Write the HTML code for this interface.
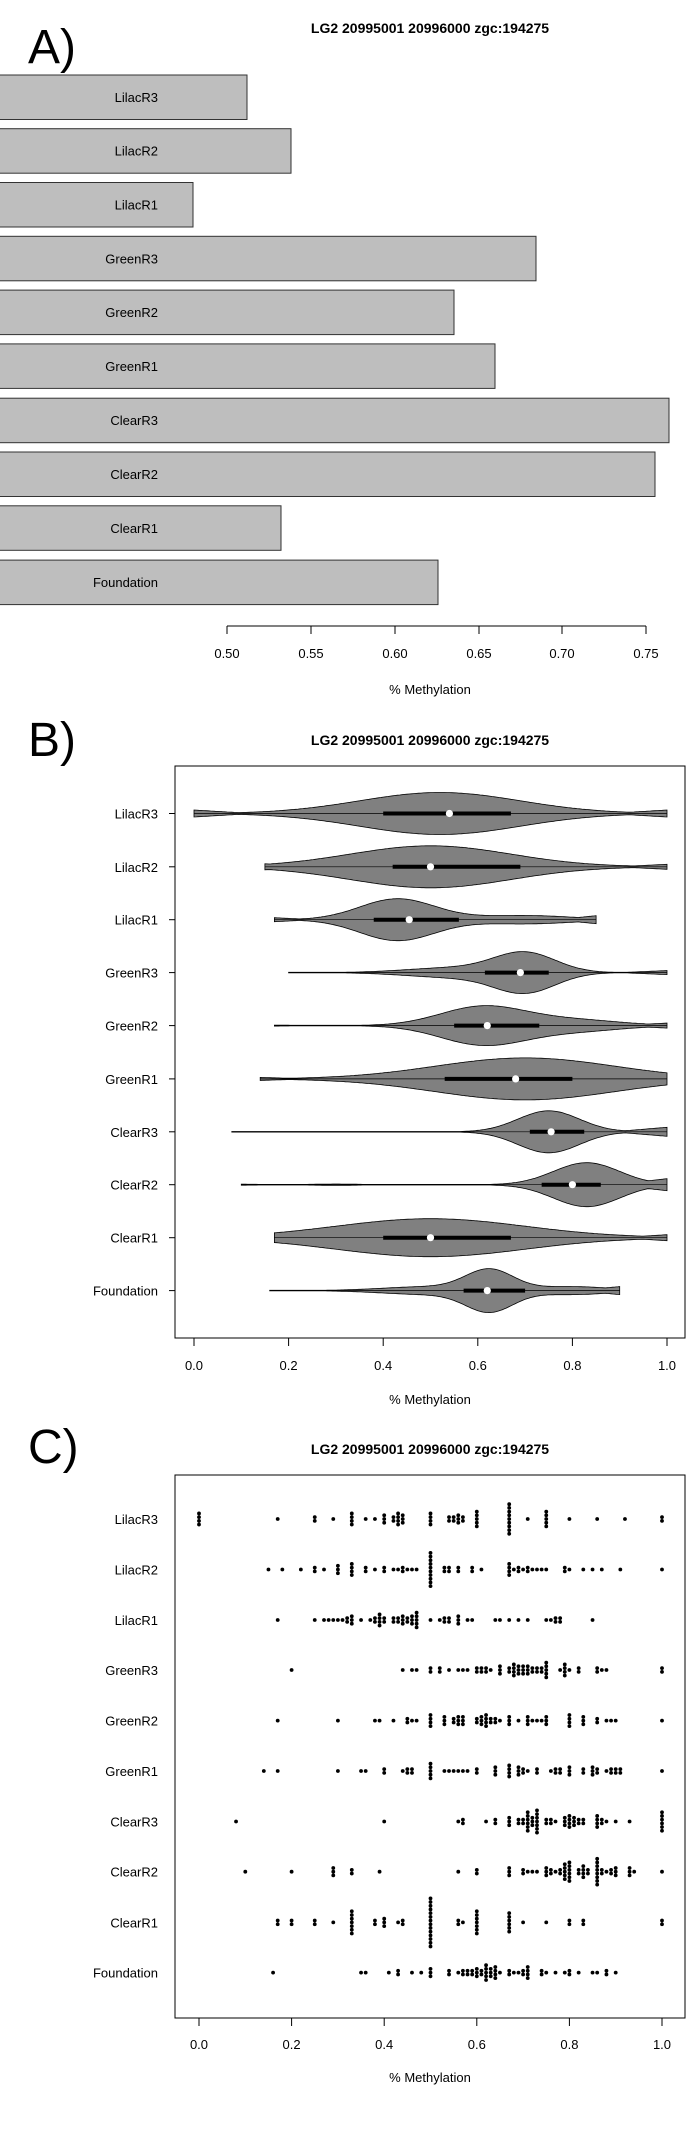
<!DOCTYPE html>
<html><head><meta charset="utf-8"><style>
html,body{margin:0;padding:0;background:#fff}
svg{display:block}
text{font-family:"Liberation Sans",Arial,sans-serif;fill:#000}
</style></head><body>
<svg id="s" width="695" height="2137" viewBox="0 0 695 2137" xmlns="http://www.w3.org/2000/svg">
<rect width="695" height="2137" fill="#fff"/>
<text x="28" y="63" font-size="48">A)</text>
<text x="430" y="33" font-size="14" font-weight="bold" text-anchor="middle">LG2 20995001 20996000 zgc:194275</text>
<g id="A" fill="#bebebe" stroke="#333" stroke-width="1"></g>
<g stroke="#000" stroke-width="1" fill="none">
<line x1="227" y1="626" x2="646" y2="626"/>
<line x1="227" y1="626" x2="227" y2="634"/><line x1="311" y1="626" x2="311" y2="634"/>
<line x1="395" y1="626" x2="395" y2="634"/><line x1="479" y1="626" x2="479" y2="634"/>
<line x1="562" y1="626" x2="562" y2="634"/><line x1="646" y1="626" x2="646" y2="634"/>
</g>
<g font-size="13" text-anchor="middle">
<text x="227" y="658">0.50</text><text x="311" y="658">0.55</text><text x="395" y="658">0.60</text>
<text x="479" y="658">0.65</text><text x="562" y="658">0.70</text><text x="646" y="658">0.75</text>
<text x="430" y="694">% Methylation</text>
</g>
<text x="28" y="756" font-size="48">B)</text>
<text x="430" y="745" font-size="14" font-weight="bold" text-anchor="middle">LG2 20995001 20996000 zgc:194275</text>
<rect x="175" y="766" width="510" height="572" fill="none" stroke="#000"/>
<g id="B"></g>
<g id="BT"></g>
<text x="430" y="1404" font-size="13" text-anchor="middle">% Methylation</text>
<text x="28" y="1463" font-size="48">C)</text>
<text x="430" y="1454" font-size="14" font-weight="bold" text-anchor="middle">LG2 20995001 20996000 zgc:194275</text>
<rect x="175" y="1475" width="510" height="543" fill="none" stroke="#000"/>
<g id="C"></g>
<g id="CT"></g>
<text x="430" y="2082" font-size="13" text-anchor="middle">% Methylation</text>
</svg>
<script>
var NS="http://www.w3.org/2000/svg";
function el(p,t,a,txt){var e=document.createElementNS(NS,t);for(var k in a)e.setAttribute(k,a[k]);if(txt!==undefined)e.textContent=txt;p.appendChild(e);return e;}
var names=["LilacR3","LilacR2","LilacR1","GreenR3","GreenR2","GreenR1","ClearR3","ClearR2","ClearR1","Foundation"];
var A=document.getElementById("A");
var tops=[75,128.7,182.5,236.3,290.1,343.9,398.2,452,505.8,560.1];
var rights=[247,291,193,536,454,495,669,655,281,438];
var S=document.getElementById("s");
for(var i=0;i<10;i++){
 el(A,"rect",{x:-2,y:tops[i],width:rights[i]+2,height:44.5});
 el(S,"text",{x:158,y:tops[i]+27,"font-size":13,"text-anchor":"end"},names[i]);
}
var B=document.getElementById("B"),BT=document.getElementById("BT");
var bx=function(v){return 194+473*v;};
var rowsB=[813.5,866.8,919.7,972.6,1025.6,1078.9,1131.8,1184.7,1237.7,1290.6];
// min,max,comps,H,med,q1,q3,endL,endR
var V=[
 [0,1,[[.52,.17,1]],21,.54,.40,.67,3.5,3.5],
 [.15,1,[[.5,.17,1]],21,.5,.42,.69,3,2.5],
 [.17,.85,[[.43,.08,1],[.7,.1,.2]],21,.455,.38,.56,2,4],
 [.2,1,[[.7,.065,1],[.55,.1,.25]],21,.69,.615,.75,0.3,2],
 [.17,1,[[.61,.09,1],[.8,.1,.3]],20,.62,.55,.73,0.5,2.5],
 [.14,1,[[.7,.19,1]],21,.68,.53,.80,1.5,4],
 [.08,1,[[.75,.065,1],[.98,.03,.12]],21,.755,.71,.825,0.3,4.5],
 [.1,1,[[.83,.07,1],[.3,.05,.03]],22,.80,.735,.86,0.5,6],
 [.17,1,[[.5,.2,1]],19,.5,.40,.67,4,3],
 [.16,.9,[[.625,.05,1],[.5,.1,.2],[.8,.08,.2]],22,.62,.57,.70,0.3,4]
];
V.forEach(function(r,i){
 var y=rowsB[i],mn=r[0],mx=r[1],c=r[2],H=r[3],eL=r[7],eR=r[8];
 var xs=[],ds=[],m=0;
 for(var k=0;k<=200;k++){var v=mn+(mx-mn)*k/200,d=0;c.forEach(function(g){d+=g[2]*Math.exp(-0.5*Math.pow((v-g[0])/g[1],2));});xs.push(v);ds.push(d);if(d>m)m=d;}
 var up=[],dn=[];
 for(var k=0;k<=200;k++){
  var t=k/200, fl=Math.max(eL*Math.max(0,1-t*8), eR*Math.max(0,1-(1-t)*8), 0.3);
  var h=Math.max(H*ds[k]/m,fl);
  up.push(bx(xs[k]).toFixed(1)+","+(y-h).toFixed(1));dn.unshift(bx(xs[k]).toFixed(1)+","+(y+h).toFixed(1));}
 el(B,"polygon",{points:up.concat(dn).join(" "),fill:"#808080",stroke:"#000","stroke-width":0.8});
 el(B,"line",{x1:bx(mn),y1:y,x2:bx(mx),y2:y,stroke:"#000","stroke-width":0.7});
 el(B,"line",{x1:bx(r[5]),y1:y,x2:bx(r[6]),y2:y,stroke:"#000","stroke-width":4});
 el(B,"circle",{cx:bx(r[4]),cy:y,r:3.6,fill:"#fff"});
 el(BT,"line",{x1:169,y1:y,x2:175,y2:y,stroke:"#000"});
 el(BT,"text",{x:158,y:y+5,"font-size":13,"text-anchor":"end"},names[i]);
});
[0,.2,.4,.6,.8,1].forEach(function(v){el(BT,"line",{x1:bx(v),y1:1338,x2:bx(v),y2:1346,stroke:"#000"});el(BT,"text",{x:bx(v),y:1370,"font-size":13,"text-anchor":"middle"},v.toFixed(1));});
var C=document.getElementById("C"),CT=document.getElementById("CT");
var cx=function(v){return 199+463*v;};
var rowsC=[1519,1569.5,1620,1670,1720.6,1771,1821.5,1871.7,1922.4,1972.6];
var D=[
"0:4 .17 .25:2 .29 .33:4 .36 .38 .40:3 .42:2 .43:4 .44:3 .5:4 .54:2 .55:2 .56:3 .57:2 .6:5 .67:9 .71 .75:5 .80 .86 .92 1:2",
".15 .18 .22 .25:2 .27 .30:3 .33:4 .36:2 .38 .40:2 .42 .43 .44:2 .45 .46 .47 .5:10 .53:2 .54:2 .56:2 .59:2 .61 .67:4 .68 .69:2 .70 .71:2 .72 .73 .74 .75 .79:2 .80 .83 .85 .87 .91 1",
".17 .25 .27 .28 .29 .30 .31 .32:2 .33:3 .35 .37 .38:2 .39:4 .40:2 .42:2 .43:2 .44:3 .45:2 .46:3 .47:5 .5 .52 .53:2 .54:2 .56:3 .58 .59 .64 .65 .67 .69 .71 .75 .76 .77:2 .78:2 .85",
".2 .44 .46 .47 .5:2 .52:2 .54 .56 .57 .58 .6:2 .61:2 .62:2 .63 .65:3 .67:2 .68:4 .69:3 .70:3 .71:3 .72:2 .73:2 .74:2 .75:5 .78 .79:4 .8 .82:2 .86:2 .87 .88 1:2",
".17 .30 .38 .39 .42 .45:2 .46 .47 .5:4 .53:3 .55:2 .56:3 .57:3 .60:2 .61:3 .62:4 .63:2 .64:2 .65 .67:3 .69 .71:3 .72 .73 .74 .75:3 .80:4 .83:3 .86:2 .88 .89 .9 1",
".14 .17 .30 .35 .36 .40:2 .44 .45:2 .46:2 .5:5 .53 .54 .55 .56 .57 .58 .6:2 .64:3 .67:4 .69:3 .7:2 .71 .73:2 .76 .77:2 .78:2 .8:3 .83:2 .85:3 .86:2 .88 .89:2 .9:2 .91:2 1",
".08 .40 .56 .57:2 .62 .64:2 .67:3 .69:2 .7:2 .71:6 .72:3 .73:7 .75:2 .76:2 .77 .79:3 .8:4 .81:3 .82:2 .83:2 .86:4 .87:2 .88 .9 .93 1:6",
".1 .2 .29:3 .33:2 .39 .56 .6:2 .67:3 .7:2 .71 .72 .73 .75:3 .76:2 .77 .78:2 .79:5 .8:6 .82:2 .83:4 .84:2 .86:8 .87:2 .88 .89:2 .9:3 .93:3 .94 1",
".17:2 .2:2 .25:2 .29 .33:7 .38:2 .40:3 .43 .44:2 .5:14 .56:2 .57 .6:7 .67:6 .7 .75 .8:2 .83:2 1:2",
".16 .35 .36 .41 .43:2 .46 .48 .5:3 .54:2 .56 .57:2 .58:2 .59:2 .6:3 .61:2 .62:5 .63:3 .64:4 .65 .67:2 .68 .69 .70:2 .71:4 .74:2 .75 .77 .79 .80:2 .82 .85 .86 .88:2 .9"
];
D.forEach(function(s,i){
 var y=rowsC[i];
 s.split(" ").forEach(function(t){var p=t.split(":"),v=parseFloat(p[0]),n=p[1]?parseInt(p[1]):1;
  for(var k=0;k<n;k++){el(C,"circle",{cx:cx(v),cy:y+(k-(n-1)/2)*3.7,r:1.9,fill:"#000"});}
 });
 el(CT,"text",{x:158,y:y+5,"font-size":13,"text-anchor":"end"},names[i]);
});
[0,.2,.4,.6,.8,1].forEach(function(v){el(CT,"line",{x1:cx(v),y1:2018,x2:cx(v),y2:2026,stroke:"#000"});el(CT,"text",{x:cx(v),y:2049,"font-size":13,"text-anchor":"middle"},v.toFixed(1));});
</script>
</body></html>
